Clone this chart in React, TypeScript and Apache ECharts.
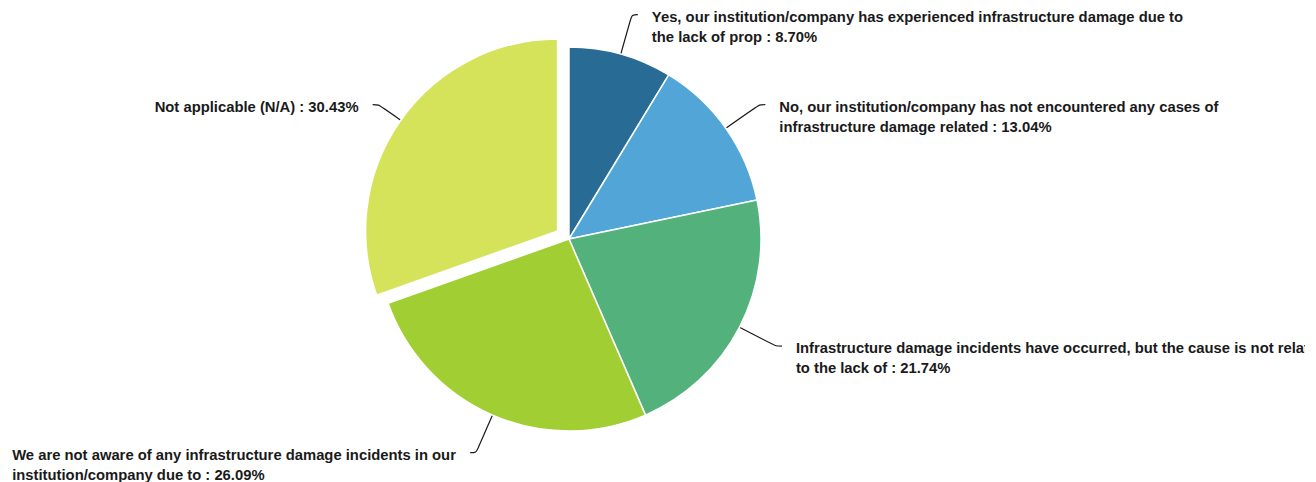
import React, { useEffect, useRef } from "react";
import * as echarts from "echarts";

const categories: string[] = [
  "Yes, our institution/company has experienced infrastructure damage due to the lack of prop",
  "No, our institution/company has not encountered any cases of infrastructure damage related",
  "Infrastructure damage incidents have occurred, but the cause is not related to the lack of",
  "We are not aware of any infrastructure damage incidents in our institution/company due to",
  "Not applicable (N/A)",
];
const values: number[] = [2, 3, 5, 6, 7];
const colors: string[] = ["#286b94", "#51a6d7", "#53b27c", "#a1cf33", "#d5e35b"];
const selectedIndex = 4;

const FONT_FAMILY = "Liberation Sans";
const FONT_SIZE = 14.8;
const LINE_H = 20;
const WRAP_W = 536;
const SEL_OFFSET = 14;
const LINE_LEN = 41;

function wrapText(text: string, maxW: number): { lines: string[]; width: number } {
  const cv = document.createElement("canvas");
  const ctx = cv.getContext("2d")!;
  ctx.font = `bold ${FONT_SIZE}px '${FONT_FAMILY}'`;
  const words = text.split(" ");
  const lines: string[] = [];
  let cur = "";
  for (const w of words) {
    const test = cur ? cur + " " + w : w;
    if (cur && ctx.measureText(test).width > maxW) {
      lines.push(cur);
      cur = w;
    } else {
      cur = test;
    }
  }
  if (cur) lines.push(cur);
  const width = Math.ceil(Math.max(...lines.map((l) => ctx.measureText(l).width)));
  return { lines, width };
}

export default function App() {
  const ref = useRef<HTMLDivElement>(null);
  useEffect(() => {
    if (!ref.current) return;
    const chart = echarts.init(ref.current, null, { renderer: "svg" });
    const total = values.reduce((a, b) => a + b, 0);
    const wrapped = categories.map((c, i) =>
      wrapText(`${c} : ${((values[i] / total) * 100).toFixed(2)}%`, WRAP_W)
    );
    const tokenStyle = {
      fontFamily: FONT_FAMILY,
      fontWeight: "bold",
      fontSize: FONT_SIZE,
      lineHeight: LINE_H,
      color: "#1a1a1a",
      align: "left",
    };
    chart.setOption({
      animation: false,
      series: [
        {
          type: "pie",
          center: [561, 231],
          radius: 192,
          startAngle: 90,
          clockwise: true,
          avoidLabelOverlap: false,
          selectedMode: "single",
          selectedOffset: SEL_OFFSET,
          itemStyle: { borderColor: "#fff", borderWidth: 1.5 },
          label: {
            show: true,
            distanceToLabelLine: 14,
            overflow: "none",
            fontFamily: FONT_FAMILY,
            fontWeight: "bold",
            fontSize: FONT_SIZE,
            lineHeight: LINE_H,
            color: "#1a1a1a",
          },
          labelLine: {
            show: true,
            smooth: true,
            length: LINE_LEN,
            length2: 6,
            lineStyle: { color: "#1a1a1a", width: 1.2 },
          },
          data: categories.map((c, i) => {
            const w = wrapped[i];
            const key = `w${i}`;
            return {
              name: c,
              value: values[i],
              selected: i === selectedIndex,
              itemStyle: { color: colors[i] },
              label: {
                width: w.width,
                padding: [LINE_H * w.lines.length - 16, 0, 0, 0],
                formatter: () => w.lines.map((l) => `{${key}|${l}}`).join("\n"),
                rich: { [key]: { ...tokenStyle, width: w.width } },
              },
              labelLine:
                i === selectedIndex ? { length: LINE_LEN - SEL_OFFSET } : undefined,
            };
          }),
        },
      ],
    });
    return () => chart.dispose();
  }, []);
  return <div ref={ref} style={{ width: 1297, height: 474 }} />;
}
